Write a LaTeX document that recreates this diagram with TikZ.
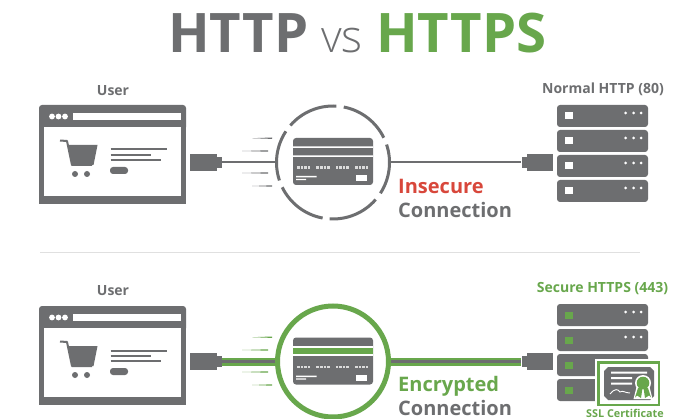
\documentclass[tikz,border=0pt]{standalone}
\usepackage{fontspec}
\setmainfont{Open Sans}
\newfontfamily\lightf{Open Sans Light}
\usetikzlibrary{calc}
\definecolor{gry}{HTML}{6D6E70}
\definecolor{grn}{HTML}{68A74C}
\definecolor{rd}{HTML}{D8473B}
\newcommand{\fs}[1]{\fontsize{#1}{#1}\selectfont}
\tikzset{
  lbl/.style={inner sep=0pt,font=\fs{14}\bfseries,text=gry,anchor=center},
  big/.style={inner sep=0pt,font=\fs{20}\bfseries,anchor=west},
  ttl/.style={inner sep=0pt,font=\fs{54.5}\bfseries,anchor=base west},
  plugbox/.style={fill=gry,draw=none,inner sep=0pt,minimum width=#1,minimum height=16.5pt},
  collar/.style={fill=gry,draw=none,inner sep=0pt,minimum width=5pt,minimum height=11pt},
  ringnode/.style={circle,inner sep=0pt,minimum size=115pt},
  wirethin/.style={gry,line width=2pt},
  wiregreen/.style={grn,line width=8pt},
  wiremid/.style={gry,line width=2.4pt},
  srv/.style={fill=gry,rounded corners=3pt,draw=none},
  lne/.style={gry,line width=2pt},
  speed/.style={fill=#1,draw=none},
}
\newcommand{\browser}{%
  \fill[gry,rounded corners=3pt] (39,105) rectangle (186,130);
  \fill[gry] (39,120) rectangle (186,204);
  \fill[white] (44,127) rectangle (181,196);
  \fill[white] (73,113) rectangle (181,120);
  \foreach \x in {52,58.5,65}{\fill[white] (\x,116.5) circle (2.9);}
  \draw[gry,line width=2pt,line join=round] (60,140.5) -- (67,141) -- (72,165) -- (92,165);
  \fill[gry] (68.5,145) -- (97.5,145) -- (93.5,165) -- (72,165) -- cycle;
  \fill[gry] (75,174) circle (3) (87,174) circle (3);
  \draw[lne] (110.5,149.5) -- (167,149.5) (110.5,154.7) -- (151,154.7) (110.5,160) -- (161,160);
  \fill[gry,rounded corners=3pt] (110,167) rectangle (128,174);
}
\newcommand{\card}[1]{%
  \fill[gry,rounded corners=3pt] (293,138) rectangle (373,185);
  #1
  \foreach \g in {297,316.3,335.6,355}{\foreach \d in {0,3.6,7.2,10.8}{%
    \fill[white!75!gry] (\g+\d,166.3) rectangle ++(2.6,2.6);}}
  \fill[white] (296,176) rectangle (316.5,177.5) (296,178.8) rectangle (306,180.2);
  \fill[white] (356,175.5) rectangle (367,181.5);
}
\newcommand{\speedlines}[1]{%
  \fill[speed=#1] (252,138.2) -- (272,137.5) -- (272,138.9) -- cycle;
  \fill[speed=#1] (242,151) -- (268,150.3) -- (268,151.7) -- cycle;
  \fill[speed=#1] (242,173) -- (268,172.3) -- (268,173.7) -- cycle;
  \fill[speed=#1] (252,186) -- (272,185.3) -- (272,186.7) -- cycle;
}
\newcommand{\srvunit}[3]{%
  \fill[srv] (557,#1) rectangle (648,#1+22);
  \fill[#2] (565,#1+7.5) rectangle (572.5,#1+14.5);
  \ifnum#3=1
  \foreach \x in {625.5,633.5,641}{\fill[white] (\x,#1+8) circle (1.5);}
  \fi
}
\begin{document}
\begin{tikzpicture}[x=1pt,y=-1pt]
\useasboundingbox (0,0) rectangle (676,419);
\fill[white] (0,0) rectangle (676,419);

% title
\node[ttl,text=gry] (ttlA) at (168,52.8) {HTTP};
\node[ttl,text=grn] (ttlC) at (376,52.8) {HTTPS};
\node[inner sep=0pt,anchor=base west,text=gry,font=\fs{45}\lightf] (ttlB) at (321,52.8) {vs};

% divider
\draw[black!12,line width=1pt] (40,252.5) -- (640,252.5);

% top row
\node[lbl] (userA) at (113,90.5) {User};
\browser
\node[plugbox=27pt] (plugA) at (203.5,162.5) {};
\node[collar] (colA) at (219.5,162.5) {};
\node[ringnode] (ringA) at (333,162.5) {};
\node[plugbox=26pt] (plugB) at (540,162.5) {};
\node[collar] (colB) at (524,162.5) {};
\draw[wirethin] (colA.east) -- (ringA.west);
\draw[wirethin] (ringA.east) -- (colB.west);
\foreach \s/\e in {79/26,18.5/-33,-41/-93.4,-100.6/-154,-161.5/-213.5,139/86.6}{
  \draw[gry,line width=3pt] ($(ringA.center)+(-\s:56.5)$) arc[start angle=-\s,end angle=-\e,radius=56.5];
}
\speedlines{gry}
\card{\fill[white] (293,146.3) rectangle (373,147.8) (293,155.3) rectangle (373,156.8);}
\node[big,text=rd] (insec) at (398,186.5) {Insecure};
\node[big,text=gry] (connA) at (398,210) {Connection};
\node[lbl] (srvA) at (603,89.5) {Normal HTTP (80)};
\srvunit{105}{white}{1}
\srvunit{130}{white}{1}
\srvunit{155}{white}{1}
\srvunit{180}{white}{1}

% bottom row
\begin{scope}[shift={(0,201)}]
\node[lbl] (userB) at (113,89.5) {User};
\browser
\end{scope}
\begin{scope}[shift={(0,199)}]
\speedlines{grn}
\end{scope}
\node[plugbox=27pt] (plugC) at (203.5,361.5) {};
\node[collar] (colC) at (219.5,361.5) {};
\node[ringnode,minimum size=116pt] (ringB) at (333,361.5) {};
\node[plugbox=26pt] (plugD) at (540,361.5) {};
\node[collar] (colD) at (524,361.5) {};
\draw[wiregreen] (colC.east) -- (ringB.west);
\draw[wiregreen] (ringB.east) -- (colD.west);
\draw[wiremid] (colC.east) -- (ringB.west);
\draw[wiremid] (ringB.east) -- (colD.west);
\draw[grn,line width=5pt] (ringB) circle (55.5);
\begin{scope}[shift={(0,199.5)}]
\card{\fill[white] (293,146.8) rectangle (373,156.2); \fill[grn] (293,148.3) rectangle (373,154.7);}
\end{scope}
\node[big,text=grn] (encr) at (398,386.5) {Encrypted};
\node[big,text=gry] (connB) at (398,408) {Connection};
\node[lbl,text=grn] (srvB) at (602.5,289) {Secure HTTPS (443)};
\srvunit{304}{grn}{1}
\srvunit{329}{grn}{1}
\srvunit{354}{grn}{0}
\srvunit{379}{grn}{0}

% certificate
\fill[white] (595,359) rectangle (662,408);
\fill[grn] (597,361) rectangle (660,406);
\fill[white] (599.5,363.5) rectangle (657.5,403.5);
\fill[gry] (608,367) -- (650,367) -- (654,371) -- (654,396) -- (650,400) -- (608,400) -- (604,396) -- (604,371) -- cycle;
\fill[white] (611,371.5) rectangle (647,373.5) (611,377) rectangle (632,379) (611,382.5) rectangle (632,384.5);
\draw[white,line width=.9pt] (610,394) .. controls (615,388) and (618,389) .. (620,392) .. controls (623,390) and (625,393) .. (630,393);
\fill[white] (643,383) circle (8);
\fill[white] (636.5,387) -- (649.5,387) -- (652.5,399) -- (633.5,399) -- cycle;
\fill[grn] (643,383) circle (6.3);
\fill[grn] (638,388) -- (642.5,388) -- (641,398) -- (637,395.5) -- (635,397.5) -- cycle;
\fill[grn] (648,388) -- (643.5,388) -- (645,398) -- (649,395.5) -- (651,397.5) -- cycle;
\node[inner sep=0pt,font=\fs{10.8}\bfseries,text=grn] (ssl) at (625,413) {SSL Certificate};
\end{tikzpicture}
\end{document}
